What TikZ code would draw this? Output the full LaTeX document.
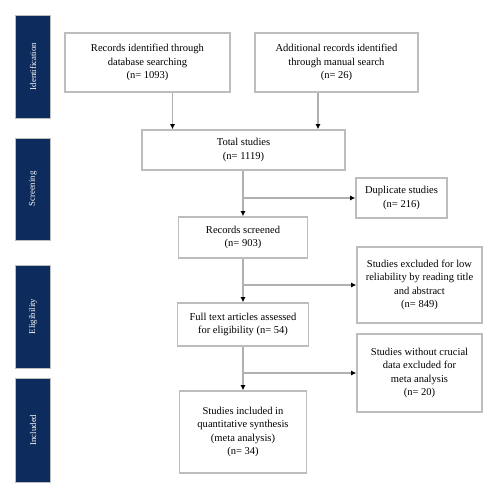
\documentclass[tikz,border=0pt]{standalone}
\usepackage{fontspec}
\setmainfont{Liberation Serif}
\usetikzlibrary{arrows.meta}
\definecolor{navy}{HTML}{0D2B5C}
\definecolor{boxline}{HTML}{BDBDBD}
\definecolor{conline}{HTML}{B0B0B0}
\tikzset{
  box/.style={draw=boxline, line width=0.8pt, fill=white, align=center, inner sep=0pt,
    font=\fontsize{6}{7.6}\selectfont},
  phase/.style={fill=navy, draw=boxline, line width=0.4pt, rotate=90, text=white, inner sep=0pt,
    minimum height=0.7cm, font=\fontsize{5}{6}\selectfont},
  conn/.style={draw=conline, line width=0.8pt, -{Latex[length=3pt,width=3pt,black]}},
  plain/.style={draw=conline, line width=0.8pt}
}
\begin{document}
\begin{tikzpicture}[x=0.02cm,y=-0.02cm]
\useasboundingbox (0,0) rectangle (500,500);
% phase bars
\node[phase, minimum width=2.06cm] (p1) at (33,66.5) {Identification};
\node[phase, minimum width=2.04cm] (p2) at (33,189) {Screening};
\node[phase, minimum width=2.06cm] (p3) at (33,316.5) {Eligibility};
\node[phase, minimum width=2.08cm] (p4) at (33,430) {Included};
% boxes
\node[box, minimum width=3.3cm, minimum height=1.18cm] (id1) at (147.5,62.5)
  {Records identified through\\database searching\\(n= 1093)};
\node[box, minimum width=3.26cm, minimum height=1.18cm] (id2) at (336.5,62.5)
  {Additional records identified\\through manual search\\(n= 26)};
\node[box, minimum width=4.06cm, minimum height=0.8cm] (tot) at (243.5,150)
  {Total studies\\(n= 1119)};
\node[box, minimum width=1.82cm, minimum height=0.8cm] (dup) at (401.5,198)
  {Duplicate studies\\(n= 216)};
\node[box, minimum width=2.58cm, minimum height=0.82cm] (scr) at (243,237.5)
  {Records screened\\(n= 903)};
\node[box, minimum width=2.5cm, minimum height=1.52cm] (exc1) at (419.5,285)
  {Studies excluded for low\\reliability by reading title\\and abstract\\(n= 849)};
\node[box, minimum width=2.62cm, minimum height=0.86cm] (ft) at (243,324.5)
  {Full text articles assessed\\for eligibility (n= 54)};
\node[box, minimum width=2.5cm, minimum height=1.56cm] (exc2) at (419.5,373)
  {Studies without crucial\\data excluded for\\meta analysis\\(n= 20)};
\node[box, minimum width=2.54cm, minimum height=1.64cm] (inc) at (243,432)
  {Studies included in\\quantitative synthesis\\(meta analysis)\\(n= 34)};
% connectors
\coordinate (c1) at ([xshift=0.5cm]id1.south);
\coordinate (c2) at ([xshift=-0.37cm]id2.south);
\draw[conn] (c1) -- (c1 |- tot.north);
\draw[conn] (c2) -- (c2 |- tot.north);
\coordinate (t1) at (tot.south -| scr.north);
\draw[conn] (t1) -- (scr.north);
\coordinate (b1) at (t1 |- dup.west);
\draw[conn] (b1) -- (dup.west);
\draw[conn] (scr.south) -- (ft.north);
\coordinate (b2) at (scr.south |- exc1.west);
\draw[conn] (b2) -- (exc1.west);
\draw[conn] (ft.south) -- (inc.north);
\coordinate (b3) at (ft.south |- exc2.west);
\draw[conn] (b3) -- (exc2.west);
\end{tikzpicture}
\end{document}
